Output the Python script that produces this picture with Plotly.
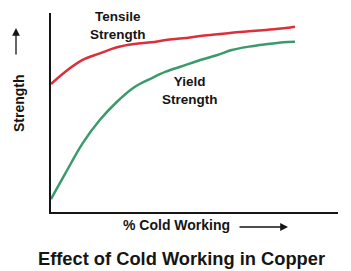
import plotly.graph_objects as go

cold_work = [0, 5, 11, 17, 23, 29, 35, 40, 46, 52, 58, 63, 69, 75, 81, 85]
tensile = [64.3, 70.5, 76.4, 79.7, 82.8, 84.4, 85.3, 86.4, 87.3, 88.4, 89.3, 90.1, 90.8, 91.5, 92.3, 93.1]
yield_s = [6.5, 19.4, 34.5, 46.2, 55.4, 62.7, 67.2, 70.5, 73.4, 76.4, 78.9, 81.4, 83.1, 84.3, 85.3, 85.6]

FONT = "Liberation Sans, Arial, sans-serif"

fig = go.Figure()
fig.add_trace(go.Scatter(x=cold_work, y=tensile, mode="lines",
                         line=dict(color="#dc2f3b", width=2.5, shape="spline"), name="Tensile"))
fig.add_trace(go.Scatter(x=cold_work, y=yield_s, mode="lines",
                         line=dict(color="#3a9a6c", width=2.5, shape="spline"), name="Yield"))

W, H = 351, 271
L, R, T, B = 51, 13, 13, 59
pw, ph = W - L - R, H - T - B

def px(xp):
    return (xp - L) / pw

def py(yp):
    return (H - B - yp) / ph

def label(text, x, y, size=14, angle=0):
    return dict(text=text, x=px(x), y=py(y), xref="paper", yref="paper",
                showarrow=False, textangle=angle,
                font=dict(family=FONT, size=size, color="#151515"),
                xanchor="center", yanchor="middle")

ann = [
    label("<b>Tensile</b><br><b>Strength</b>", 118, 25, size=13.5),
    label("<b>Yield</b><br><b>Strength</b>", 190, 90, size=13.5),
    label("<b>Strength</b>", 19, 103, angle=-90),
    label("<b>% Cold Working</b>", 176, 225),
    label("<b>Effect of Cold Working in Copper</b>", 181, 258, size=18.3),
]
# arrows
ann.append(dict(text="", x=px(16), y=py(28), xref="paper", yref="paper", showarrow=True,
                ax=0, ay=28, arrowhead=2, arrowsize=1.2, arrowwidth=1.3, arrowcolor="#151515"))
ann.append(dict(text="", x=px(288), y=py(227), xref="paper", yref="paper", showarrow=True,
                ax=-50, ay=0, arrowhead=2, arrowsize=1.2, arrowwidth=1.3, arrowcolor="#151515"))

fig.update_layout(
    width=W, height=H,
    margin=dict(l=L, r=R, t=T, b=B, pad=0),
    paper_bgcolor="white", plot_bgcolor="white",
    showlegend=False,
    annotations=ann,
    xaxis=dict(range=[0, 100], showgrid=False, zeroline=False, showticklabels=False, ticks="",
               showline=True, linecolor="#151515", linewidth=1.5),
    yaxis=dict(range=[0, 100], showgrid=False, zeroline=False, showticklabels=False, ticks="",
               showline=True, linecolor="#151515", linewidth=1.5),
)
fig.write_html("out.html")
